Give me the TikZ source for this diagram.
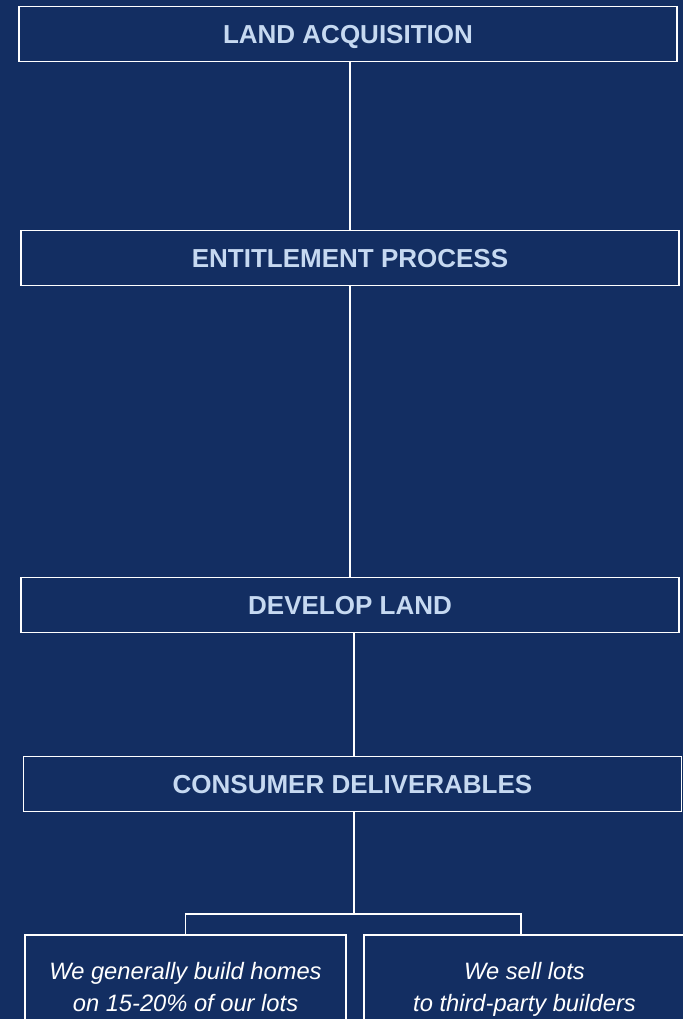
\documentclass[tikz,border=0pt]{standalone}
\usepackage{fontspec}
\setmainfont{Liberation Sans}
\usetikzlibrary{
  calc,
  positioning}

\definecolor{deepnavy}{HTML}{132E62}
\definecolor{paleblue}{HTML}{C6D9F1}

\begin{document}
\begin{tikzpicture}[x=1pt,y=1pt]
  \tikzset{stage box/.style={draw=white,
                             rectangle,
                             line width=1.6pt,
                             outer sep=0pt,
                             minimum width=658pt,
                             minimum height=55pt,
                             text height=19pt,
                             text depth=0pt,
                             text=paleblue,
                             font=\bfseries\fontsize{26}{31}\selectfont},
           detail box/.style={draw=white,
                              rectangle,
                              line width=1.6pt,
                              outer sep=0pt,
                              minimum width=321pt,
                              minimum height=108pt,
                              align=center,
                              text=white,
                              font=\itshape\fontsize{23.7}{32}\selectfont},
           link/.style={draw=white,line width=1.3pt}
          }

%%%%%%%%%%%%%%%%%%%%%%%%%%%%%%%%%%%%%%%%%%%%%%%%%%%%%%%%%%%%%%%%%%%%%%%%%%%%%%

\useasboundingbox (0,0) rectangle (683,-1019);
\fill[deepnavy] (0,0) rectangle (683,-1019);

%%%%%%%%%%%%%%%%%%%%%%%%%%%%%%%%%%%%%%%%%%%%%%%%%%%%%%%%%%%%%%%%%%%%%%%%%%%%%%

\node[stage box] (LA) at (348,-34) {LAND ACQUISITION};

\node[stage box,below=169pt of LA,xshift=2pt] (EP) {ENTITLEMENT PROCESS};

\node[stage box,below=292pt of EP] (DL) {DEVELOP LAND};

\node[stage box,below=124pt of DL,xshift=2.5pt] (CD) {CONSUMER DELIVERABLES};

\node[detail box,anchor=north west] (OWN) at (25,-935) {\strut We generally build homes\\\strut on 15-20\% of our lots};

\node[detail box,anchor=north west] (LOTS) at (364,-935) {\strut We sell lots\\\strut to third-party builders};

%%%%%%%%%%%%%%%%%%%%%%%%%%%%%%%%%%%%%%%%%%%%%%%%%%%%%%%%%%%%%%%%%%%%%%%%%%%%%%

\coordinate[below=102.5pt of CD.south,xshift=1.5pt] (fork);

\draw[link]  (EP.north |- LA.south) -- (EP.north);
\draw[link]  (EP) -- (DL);
\draw[link]  ([xshift=1.5pt]CD.north |- DL.south) -- ([xshift=1.5pt]CD.north);
\draw[link]  ([xshift=1.5pt]CD.south) -- (fork);
\draw[link]  (OWN.north) |- (fork) -| ([xshift=-3.5pt]LOTS.north);

%%%%%%%%%%%%%%%%%%%%%%%%%%%%%%%%%%%%%%%%%%%%%%%%%%%%%%%%%%%%%%%%%%%%%%%%%%%%%%

\end{tikzpicture}
\end{document}
